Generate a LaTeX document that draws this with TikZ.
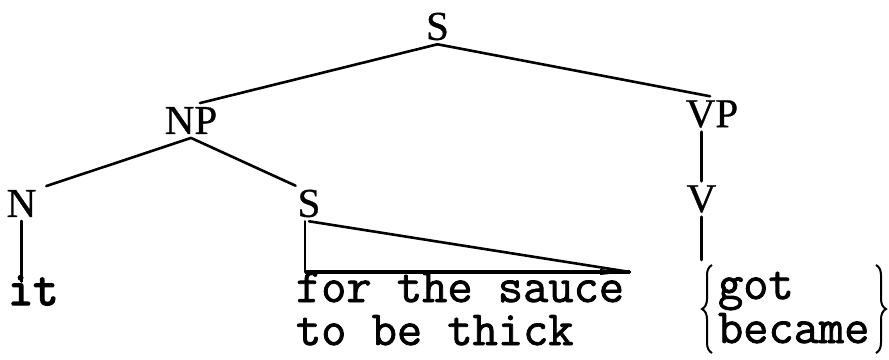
\documentclass[tikz,border=0pt]{standalone}
\usepackage{fontspec}
\setmainfont{Liberation Serif}
\newfontfamily\monofam[FakeBold=1.6]{Latin Modern Mono}
\newfontfamily\monofamb[FakeBold=3]{Latin Modern Mono}
\newfontfamily\labfam[FakeBold=0.8]{Liberation Serif}
\usetikzlibrary{decorations.pathreplacing}
\begin{document}
\begin{tikzpicture}[x=1pt,y=-1pt,
  cat/.style={inner sep=4pt,outer sep=0pt,font=\labfam\fontsize{41}{41}\selectfont},
  words/.style={inner sep=0pt,outer sep=0pt,align=left,anchor=base west,
    font=\monofam\fontsize{49}{43}\selectfont},
  edge/.style={line width=2.6pt,line cap=round},
  bracestyle/.style={line width=2pt,decorate,decoration={brace,amplitude=10pt}}]
\useasboundingbox (0,0) rectangle (889,359);
\node[cat] (S0) at (437.5,26.5) {S};
\node[cat] (NP) at (191,120.5) {NP};
\node[cat] (VP) at (712,114) {VP};
\node[cat] (N) at (21.5,203.5) {N};
\node[cat] (S1) at (309,203.5) {S};
\node[cat] (V) at (701.5,199) {V};
\node[words,font=\monofamb\fontsize{49}{43}\selectfont] (it) at (8,305) {it};
\node[words] (fts) at (296,345) {for the sauce\\to be thick};
\node[words,font=\monofam\fontsize{49}{44}\selectfont] (gb) at (718,343) {got\\became};
\coordinate (corner) at (305,272);
\coordinate (tip) at (630,272);
\coordinate (vend) at (701.5,260);
\coordinate (lb1) at (712,353);
\coordinate (lb2) at (712,265);
\coordinate (rb1) at (876,265);
\coordinate (rb2) at (876,353);
\draw[edge] (S0.south) -- ([xshift=9]NP.north);
\draw[edge] (S0.south) -- ([xshift=-2]VP.north);
\draw[edge] (NP.south) -- ([xshift=6]N.north east);
\draw[edge] (NP.south) -- ([xshift=2]S1.north west);
\draw[edge] (N.south) -- ([yshift=-6]N.south |- it.north);
\draw[edge] ([xshift=-4]S1.south) -- (corner);
\draw[edge] (S1.south) -- (tip);
\draw[line width=3.2pt] (corner) -- (tip);
\fill (tip) -- ++(-30,-3) -- ++(0,6) -- cycle;
\draw[edge] (V.north |- VP.south) -- (V.north);
\draw[edge] (V.south) -- (vend);
\draw[bracestyle] (lb1) -- (lb2);
\draw[bracestyle] (rb1) -- (rb2);
\end{tikzpicture}
\end{document}
